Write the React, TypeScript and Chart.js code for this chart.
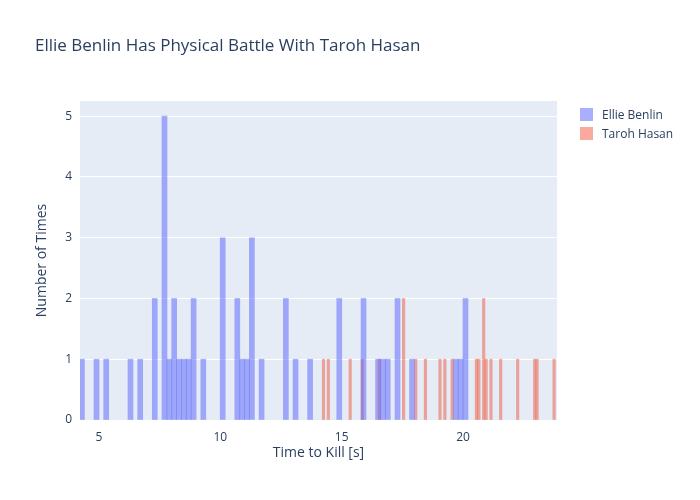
import { useEffect, useRef } from 'react';
import { Chart, registerables } from 'chart.js';

Chart.register(...registerables);

// Ellie Benlin: bin centers (0.2 s wide) and counts
const ellieTimes = [4.3, 4.9, 5.3, 6.3, 6.7, 7.3, 7.7, 7.9, 8.1, 8.3, 8.5, 8.7, 8.9, 9.3, 10.1, 10.7, 10.9, 11.1, 11.3, 11.7, 12.7, 13.1, 13.7, 14.9, 15.9, 16.5, 16.7, 16.9, 17.3, 17.9, 19.7, 19.9, 20.1];
const ellieCounts = [1, 1, 1, 1, 1, 2, 5, 1, 2, 1, 1, 1, 2, 1, 3, 2, 1, 1, 3, 1, 2, 1, 1, 2, 2, 1, 1, 1, 2, 1, 1, 1, 2];

// Taroh Hasan: bin centers (0.1 s wide) and counts
const tarohTimes = [14.25, 14.45, 15.35, 15.85, 16.55, 17.55, 18.05, 18.45, 19.05, 19.25, 19.55, 20.55, 20.65, 20.85, 20.95, 21.15, 21.55, 22.25, 22.95, 23.05, 23.75];
const tarohCounts = [1, 1, 1, 1, 1, 2, 1, 1, 1, 1, 1, 1, 1, 2, 1, 1, 1, 1, 1, 1, 1];

const xTicks = [5, 10, 15, 20];
const textColor = '#2a3f5f';
const font = '"Open Sans", "Noto Sans", sans-serif';

const plotBg = {
  id: 'plotBg',
  beforeDraw(chart: any) {
    const { ctx, chartArea: a } = chart;
    ctx.save();
    ctx.fillStyle = '#e5ecf6';
    ctx.fillRect(a.left, a.top, a.right - a.left, a.bottom - a.top);
    ctx.restore();
  },
};

export default function App() {
  const canvasRef = useRef<HTMLCanvasElement>(null);

  useEffect(() => {
    if (!canvasRef.current) return;
    const chart = new Chart(canvasRef.current, {
      type: 'bar',
      data: {
        datasets: [
          {
            label: 'Ellie Benlin',
            data: ellieTimes.map((x, i) => ({ x, y: ellieCounts[i] })),
            backgroundColor: 'rgba(99,110,250,0.55)',
            barThickness: 5,
            grouped: false,
          } as any,
          {
            label: 'Taroh Hasan',
            data: tarohTimes.map((x, i) => ({ x, y: tarohCounts[i] })),
            backgroundColor: 'rgba(239,85,59,0.5)',
            barThickness: 2.5,
            grouped: false,
          } as any,
        ],
      },
      options: {
        animation: false,
        responsive: false,
        layout: { padding: { left: 30, right: 143, top: 101, bottom: 35 } },
        plugins: { legend: { display: false }, tooltip: { enabled: false } },
        scales: {
          x: {
            type: 'linear',
            offset: false,
            min: 4.22,
            max: 23.87,
            grid: { display: false },
            border: { display: false },
            afterBuildTicks: (s: any) => { s.ticks = xTicks.map((v) => ({ value: v })); },
            afterFit: (s: any) => { s.height = 45; },
            ticks: { color: textColor, font: { family: font, size: 12 }, padding: 2 },
            title: { display: true, text: 'Time to Kill [s]', color: textColor, font: { family: font, size: 14 }, padding: { top: 8 } },
          },
          y: {
            min: 0,
            max: 5.25,
            grid: { color: '#ffffff', lineWidth: 1, drawTicks: false },
            border: { display: false },
            afterBuildTicks: (s: any) => { s.ticks = [0, 1, 2, 3, 4, 5].map((v) => ({ value: v })); },
            afterFit: (s: any) => { s.width = 50; },
            ticks: { color: textColor, font: { family: font, size: 12 }, padding: 8 },
            title: { display: true, text: 'Number of Times', color: textColor, font: { family: font, size: 14 }, padding: { bottom: 4 } },
          },
        },
      },
      plugins: [plotBg],
    });
    return () => chart.destroy();
  }, []);

  const legendItem = (label: string, color: string) => (
    <div style={{ display: 'flex', alignItems: 'center', height: 19 }}>
      <span style={{ width: 13, height: 13, background: color, display: 'inline-block', marginRight: 9 }} />
      <span>{label}</span>
    </div>
  );

  return (
    <div style={{ position: 'absolute', left: 0, top: 0, width: 700, height: 500, background: '#fff', fontFamily: font, color: textColor }}>
      <canvas ref={canvasRef} width={700} height={500} />
      <div style={{ position: 'absolute', left: 35, top: 33, fontSize: 17 }}>Ellie Benlin Has Physical Battle With Taroh Hasan</div>
      <div style={{ position: 'absolute', left: 580, top: 105, fontSize: 12 }}>
        {legendItem('Ellie Benlin', 'rgba(99,110,250,0.55)')}
        {legendItem('Taroh Hasan', 'rgba(239,85,59,0.5)')}
      </div>
    </div>
  );
}
